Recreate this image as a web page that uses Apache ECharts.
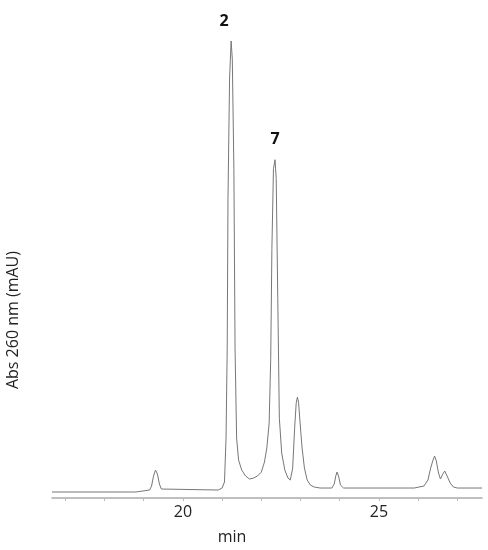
<!DOCTYPE html>
<html>
<head>
<meta charset="utf-8">
<script src="https://cdn.jsdelivr.net/npm/echarts@6/dist/echarts.min.js"></script>
<style>html,body{margin:0;padding:0;background:#fff}#c{width:488px;height:550px}</style>
</head>
<body>
<div id="c"></div>
<script>
// Retention time (min)
const times = [16.66, 18.80, 18.82, 19.15, 19.20, 19.25, 19.30, 19.35, 19.40, 19.45, 19.50, 20.90,
  21.00, 21.06, 21.10, 21.13, 21.15, 21.19, 21.23, 21.26, 21.30, 21.33, 21.37, 21.42, 21.50, 21.60, 21.70,
  21.80, 21.90, 22.00, 22.08, 22.14, 22.20, 22.24, 22.27, 22.31, 22.35, 22.38, 22.42, 22.46, 22.52,
  22.60, 22.68, 22.74, 22.80, 22.85, 22.89, 22.92, 22.95, 22.99, 23.04, 23.10, 23.17, 23.25, 23.35,
  23.50, 23.80, 23.86, 23.90, 23.93, 23.97, 24.02, 24.10, 25.00, 25.90, 25.93, 26.15, 26.25, 26.32,
  26.38, 26.42, 26.46, 26.52, 26.57, 26.63, 26.68, 26.74, 26.82, 26.90, 27.00, 27.63];
// Absorbance (arbitrary units)
const absorbance = [6, 6, 8, 8, 12, 22, 28, 24, 14, 9, 7, 8,
  10, 16, 60, 150, 300, 420, 458, 440, 330, 150, 60, 38, 28, 22, 19,
  20, 22, 26, 36, 50, 75, 140, 250, 330, 339, 320, 200, 80, 45,
  28, 20, 18, 30, 70, 95, 101, 96, 75, 50, 30, 18, 13, 11,
  10, 10, 14, 22, 26, 22, 13, 10, 10, 10, 12, 12, 18, 30,
  38, 42, 38, 25, 19, 24, 27, 22, 15, 11, 10, 10];
const xTickLabels = [20, 25];
const xMinorTicks = [17, 18, 19, 20, 21, 22, 23, 24, 25, 26, 27];
const peakNames = ['2', '7'];
const peakTimes = [21.23, 22.35];
const peakValues = [458, 339];

const chart = echarts.init(document.getElementById('c'));
chart.setOption({
  animation: false,
  backgroundColor: '#fff',
  grid: { left: 52, right: 6, top: 30, bottom: 51 },
  xAxis: {
    type: 'value', min: 16.66, max: 27.63,
    name: 'min', nameLocation: 'middle', nameGap: 31,
    nameTextStyle: { fontFamily: 'Open Sans', fontSize: 16, color: '#222', padding: [0, 70, 0, 0] },
    axisLine: { show: true, lineStyle: { color: '#aaa', width: 1.5 } },
    axisTick: { show: true, customValues: xMinorTicks, length: 3, inside: false, lineStyle: { color: '#bbb' } },
    axisLabel: { customValues: xTickLabels, fontFamily: 'Open Sans', fontSize: 16, color: '#222', margin: 6 },
    splitLine: { show: false }
  },
  yAxis: {
    type: 'value', min: 0, max: 469,
    axisLine: { show: false }, axisTick: { show: false }, axisLabel: { show: false }, splitLine: { show: false }
  },
  graphic: [{
    type: 'text', left: 5, top: 251, rotation: Math.PI / 2,
    style: { text: 'Abs 260 nm (mAU)', fontFamily: 'Open Sans', fontSize: 16, fill: '#222' }
  }],
  series: [{
    type: 'line',
    data: times.map((t, i) => [t, absorbance[i]]),
    showSymbol: false,
    lineStyle: { color: '#777', width: 1 },
    markPoint: {
      symbol: 'circle', symbolSize: 0,
      label: { show: true, position: 'top', distance: 12, fontFamily: 'Open Sans', fontWeight: 'bold', fontSize: 16, color: '#111', formatter: p => p.name },
      data: peakNames.map((n, i) => ({ name: n, coord: [peakTimes[i], peakValues[i]], label: i === 0 ? { offset: [-7, 0] } : {} }))
    }
  }]
});
</script>
</body>
</html>
